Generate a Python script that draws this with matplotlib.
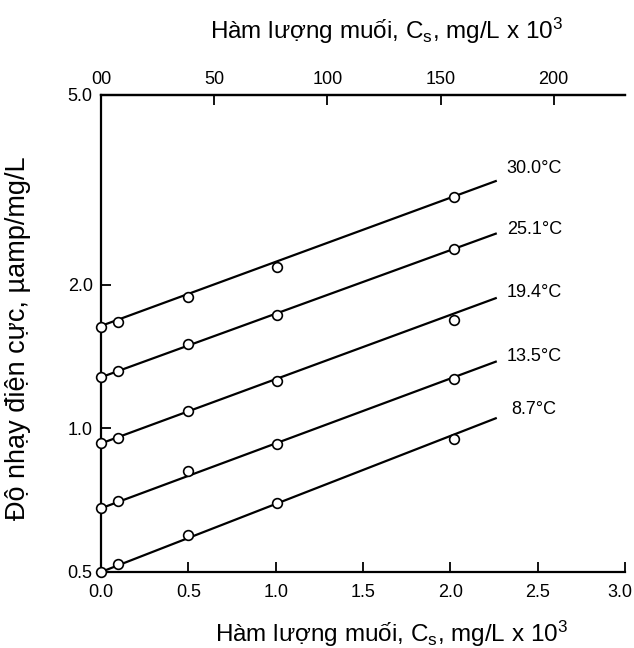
import matplotlib
matplotlib.use("Agg")
import matplotlib.pyplot as plt
import matplotlib.transforms as mtransforms
from matplotlib.ticker import FixedLocator, FixedFormatter, NullLocator

plt.rcParams['font.family'] = ['Liberation Sans', 'DejaVu Sans']
plt.rcParams['mathtext.default'] = 'regular'

# ---- data ----
salt = [0.0, 0.1, 0.5, 1.01, 2.02]
temps = ["30.0°C", "25.1°C", "19.4°C", "13.5°C", "8.7°C"]
sens_30 = [1.63, 1.67, 1.89, 2.18, 3.05]
sens_25 = [1.28, 1.32, 1.50, 1.73, 2.38]
sens_19 = [0.93, 0.953, 1.09, 1.26, 1.69]
sens_13 = [0.68, 0.706, 0.816, 0.927, 1.27]
sens_8 = [0.50, 0.52, 0.598, 0.696, 0.95]
fit_start = [1.64, 1.28, 0.93, 0.68, 0.50]
fit_end = [3.30, 2.56, 1.875, 1.38, 1.05]
fit_x = [0.0, 2.26]
x_ticks = [0.0, 0.5, 1.0, 1.5, 2.0, 2.5, 3.0]
y_ticks = [0.5, 1.0, 2.0, 5.0]
top_ticks = [0, 50, 100, 150, 200]
top_labels = ["00", "50", "100", "150", "200"]
top_factor = 77.16

series = [sens_30, sens_25, sens_19, sens_13, sens_8]

fig = plt.figure(figsize=(6.34, 6.48), dpi=100)
ax = fig.add_axes([0.1593, 0.1173, 0.8265, 0.7361])
ax.set_yscale('log')
ax.set_xlim(0, 3.0)
ax.set_ylim(0.5, 5.0)

label_offsets = [(11, 13), (11, 4), (11, 6), (11, 5), (16, 9)]
for vals, s0, s1, name, off in zip(series, fit_start, fit_end, temps, label_offsets):
    ax.plot(fit_x, [s0, s1], color='black', lw=1.6, zorder=2)
    ax.plot(salt, vals, 'o', ms=7, mfc='white', mec='black', mew=1.2, zorder=3,
            clip_on=False)
    ax.annotate(name, xy=(fit_x[1], s1), xytext=off, textcoords='offset pixels',
                fontsize=13, ha='left', va='center')

ax.yaxis.set_major_locator(FixedLocator(y_ticks))
ax.yaxis.set_major_formatter(FixedFormatter([f"{v:.1f}" for v in y_ticks]))
ax.yaxis.set_minor_locator(NullLocator())
ax.set_xticks(x_ticks)
ax.set_xticklabels([f"{v:.1f}" for v in x_ticks])

for side in ['left', 'bottom', 'top']:
    ax.spines[side].set_linewidth(1.6)
ax.spines['right'].set_visible(False)
ax.tick_params(axis='both', direction='in', length=7, width=1.3, labelsize=13)
ax.tick_params(axis='x', pad=9)
ax.tick_params(axis='y', pad=6)

# nudge the last bottom tick label so it stays inside the figure
last = ax.get_xticklabels()[-1]
last.set_transform(last.get_transform() +
                   mtransforms.ScaledTranslation(-5 / 100, 0, fig.dpi_scale_trans))

sec = ax.secondary_xaxis('top', functions=(lambda x: x * top_factor,
                                            lambda x: x / top_factor))
sec.set_xticks(top_ticks)
sec.set_xticklabels(top_labels)
sec.tick_params(direction='in', length=7, width=1.3, labelsize=13, pad=5)
sec.spines['top'].set_linewidth(1.6)

fig.text(0.61, 0.952, "Hàm lượng muối, C$_s$, mg/L x 10$^3$", fontsize=17.5,
         ha='center', va='center')

ax.set_xlabel("Hàm lượng muối, C$_s$, mg/L x 10$^3$", fontsize=17.5)
ax.xaxis.set_label_coords(0.555, -0.098)
ax.set_ylabel("Độ nhạy điện cực, µamp/mg/L", fontsize=19.5)
ax.yaxis.set_label_coords(-0.133, 0.49)

fig.savefig("out.png", dpi=100)
